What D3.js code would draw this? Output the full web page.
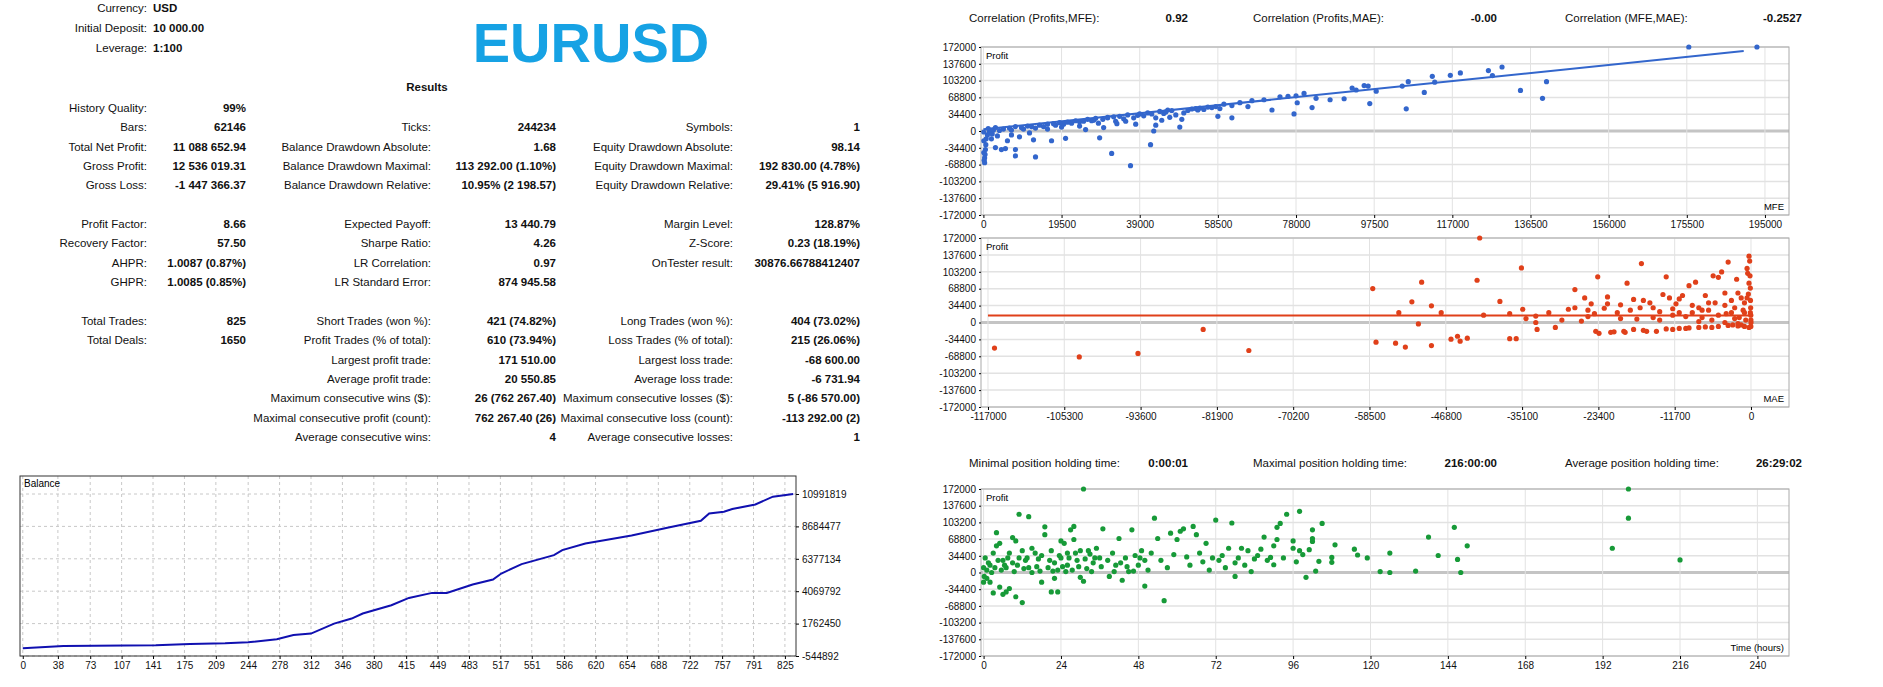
<!DOCTYPE html>
<html><head><meta charset="utf-8">
<script src="https://cdn.jsdelivr.net/npm/d3@7"></script>
<style>
body{margin:0;background:#fff;}
svg text{font-family:"Liberation Sans",Arial,sans-serif;}
.lbl{font-size:11.5px;fill:#111;}
.val{font-size:11.5px;font-weight:bold;fill:#111;}
.tick text{font-size:10px;fill:#111;}
</style></head>
<body><svg id="c" width="1883" height="687"></svg>
<script>
// ---- stats table rows: [label, value] per column
var headRows = [["Currency:", "USD"], ["Initial Deposit:", "10 000.00"], ["Leverage:", "1:100"]];
var col1 = [["History Quality:", "99%"], ["Bars:", "62146"], ["Total Net Profit:", "11 088 652.94"], ["Gross Profit:", "12 536 019.31"], ["Gross Loss:", "-1 447 366.37"], null,
  ["Profit Factor:", "8.66"], ["Recovery Factor:", "57.50"], ["AHPR:", "1.0087 (0.87%)"], ["GHPR:", "1.0085 (0.85%)"], null,
  ["Total Trades:", "825"], ["Total Deals:", "1650"]];
var col2 = [null, ["Ticks:", "244234"], ["Balance Drawdown Absolute:", "1.68"], ["Balance Drawdown Maximal:", "113 292.00 (1.10%)"], ["Balance Drawdown Relative:", "10.95% (2 198.57)"], null,
  ["Expected Payoff:", "13 440.79"], ["Sharpe Ratio:", "4.26"], ["LR Correlation:", "0.97"], ["LR Standard Error:", "874 945.58"], null,
  ["Short Trades (won %):", "421 (74.82%)"], ["Profit Trades (% of total):", "610 (73.94%)"], ["Largest profit trade:", "171 510.00"], ["Average profit trade:", "20 550.85"],
  ["Maximum consecutive wins ($):", "26 (762 267.40)"], ["Maximal consecutive profit (count):", "762 267.40 (26)"], ["Average consecutive wins:", "4"]];
var col3 = [null, ["Symbols:", "1"], ["Equity Drawdown Absolute:", "98.14"], ["Equity Drawdown Maximal:", "192 830.00 (4.78%)"], ["Equity Drawdown Relative:", "29.41% (5 916.90)"], null,
  ["Margin Level:", "128.87%"], ["Z-Score:", "0.23 (18.19%)"], ["OnTester result:", "30876.66788412407"], null, null,
  ["Long Trades (won %):", "404 (73.02%)"], ["Loss Trades (% of total):", "215 (26.06%)"], ["Largest loss trade:", "-68 600.00"], ["Average loss trade:", "-6 731.94"],
  ["Maximum consecutive losses ($):", "5 (-86 570.00)"], ["Maximal consecutive loss (count):", "-113 292.00 (2)"], ["Average consecutive losses:", "1"]];
var corrRow = [["Correlation (Profits,MFE):", "0.92"], ["Correlation (Profits,MAE):", "-0.00"], ["Correlation (MFE,MAE):", "-0.2527"]];
var holdRow = [["Minimal position holding time:", "0:00:01"], ["Maximal position holding time:", "216:00:00"], ["Average position holding time:", "26:29:02"]];

// ---- balance curve
var balTrade = [0, 44, 144, 181, 219, 244, 275, 293, 312, 337, 356, 368, 399, 418, 443, 459, 487, 509, 518, 540, 575, 584, 609, 631, 659, 699, 734, 743, 759, 768, 793, 812, 834];
var balValue = [10000, 170000, 216000, 310000, 360000, 430000, 645000, 950000, 1050000, 1760000, 2120000, 2480000, 3070000, 3590000, 3950000, 3950000, 4550000, 4900000, 5330000, 6000000, 6640000, 7000000, 7470000, 7710000, 8040000, 8610000, 9090000, 9610000, 9730000, 9920000, 10250000, 10800000, 10991819];
var balTicksX = [0, 38, 73, 107, 141, 175, 209, 244, 278, 312, 346, 380, 415, 449, 483, 517, 551, 586, 620, 654, 688, 722, 757, 791, 825];
var balTicksY = [-544892, 1762450, 4069792, 6377134, 8684477, 10991819];

// ---- profit axis shared by scatter charts
var profitTicks = [-172000, -137600, -103200, -68800, -34400, 0, 34400, 68800, 103200, 137600, 172000];

// MFE vs profit
var mfePts = [[176000,172000],[193000,172000],[129400,131000],[126000,123800],[127000,113500],[119000,119000],[116500,114000],[112000,112000],[112600,100000],[106000,101000],[104500,92000],[110000,79000],[105500,45400],[134000,83000],[140500,101000],[139500,67000],[98000,81500],[96400,56100],[92000,88000],[95000,93000],[96000,92000],[93000,84000],[90000,66000],[86500,64000],[83000,67000],[82000,48000],[80000,77000],[78000,72000],[76000,71000],[78300,57800],[77500,35000],[74000,70000],[72000,43000],[70000,64000],[67000,62000],[66000,50000],[64000,58000],[62000,52000],[62000,27000],[60000,55000],[58500,30000],[58000,50000],[57000,48000],[55000,44000],[53000,46000],[51000,42000],[50000,37000],[49000,8000],[49500,24000],[48000,33000],[46000,43000],[45000,36000],[44500,22000],[43000,27000],[42000,35000],[43000,12000],[41700,-28000],[42500,0],[40000,31000],[38000,14000],[37500,27000],[35000,25000],[36700,-71000],[33000,20000],[31000,27000],[29800,24000],[33300,15000],[28700,16000],[30000,7000],[27000,21000],[25500,3000],[29000,-14000],[32000,-46000],[24000,19000],[22000,16000],[20000,14000],[19500,8000],[18000,12000],[20500,-15000],[17000,-20000],[15000,9000],[13000,6000],[12500,-18000],[11500,-4000],[10000,4000],[13000,-53000],[9000,-12000],[8000,-38000],[8000,-51000],[7000,2000],[6000,-20000],[5500,-36000],[4500,-38000],[3500,-10000],[3000,-34000],[2500,2000],[2000,-16000],[1500,-3000],[700,-16000],[500,-38000],[400,-48000],[300,-55000],[200,-60000],[300,-65000],[600,-28000],[1000,-8000],[1200,5000],[3000,7000],[5000,4000],[8000,9000],[11000,10000],[14000,12000],[16000,14000],[21000,18000],[23000,21000],[26000,24000],[28000,26000],[31000,28000],[34000,30000],[36000,33000],[39000,35000],[41000,37000],[44000,40000],[47000,42000],[52000,45000],[54000,47000],[56000,49000],[4000,1000],[6500,6000],[9500,7000],[12000,9000],[17500,15000],[19000,17000],[25000,20000],[27500,22000],[32500,29000],[38500,32000],[45500,39000],[53500,43000],[59000,46000],[2000,0],[100,-2000],[100,-20000],[100,-44000],[2200,-6000],[7000,-8000],[16000,4000],[24000,10000],[35500,20000],[46500,28000]];
var mfeTicks = [0, 19500, 39000, 58500, 78000, 97500, 117000, 136500, 156000, 175500, 195000];
var mfeFit = [[0, 3400], [189700, 163700]];

// MAE vs profit
var maePts = [[-116000,-52000],[-103000,-70000],[-94000,-63000],[-84000,-14000],[-77000,-57000],[-58000,69000],[-57500,-40000],[-54500,-42000],[-54000,20000],[-53000,-50000],[-52000,42000],[-51000,-3000],[-50500,82000],[-49000,34000],[-49000,-47000],[-47500,20000],[-46000,-34000],[-45000,-28000],[-44600,-38000],[-43500,-32000],[-42000,86000],[-41600,172000],[-41000,15000],[-38500,43000],[-37000,-33000],[-36000,-33000],[-37000,18000],[-35200,111000],[-35000,27000],[-34500,8000],[-33000,13000],[-32800,-14000],[-33000,0],[-31000,20000],[-30000,-10000],[-29000,5000],[-28000,27000],[-27000,67000],[-26000,3000],[-25500,50000],[-25000,25000],[-24500,38000],[-23800,-18000],[-23500,93000],[-23300,-22000],[-22500,29000],[-22000,52000],[-21500,-20000],[-20500,20000],[-20000,36000],[-19300,-20000],[-19000,80000],[-18000,47000],[-17500,7000],[-16800,120000],[-16500,45000],[-16000,-18000],[-15000,30000],[-14500,-18000],[-14000,22000],[-13500,57000],[-13000,93000],[-12500,50000],[-12000,-14000],[-11500,38000],[-11000,20000],[-10500,55000],[-10000,-12000],[-9500,75000],[-9000,35000],[-8500,82000],[-8000,-10000],[-8000,30000],[-7500,10000],[-7000,55000],[-6500,25000],[-6000,-10000],[-5800,95000],[-5500,40000],[-5000,92000],[-4500,103000],[-4000,60000],[-3800,18000],[-3500,123000],[-3000,45000],[-2800,-5000],[-2500,30000],[-2200,88000],[-2000,60000],[-1800,10000],[-1500,50000],[-1200,25000],[-1000,40000],[-800,5000],[-600,110000],[-500,100000],[-400,58000],[-300,135000],[-200,125000],[-150,95000],[-100,70000],[-80,45000],[-50,30000],[-30,15000],[0,0],[-20,-8000],[-10,5000],[-300,-10000],[-1000,-8000],[-2000,-7000],[-4000,0],[-6000,5000],[-10000,12000],[-12000,15000],[-15000,10000],[-20000,8000],[-25000,12000],[-17000,30000],[-9000,20000],[-3000,20000],[-22000,38000],[-18000,-14000],[-11000,-12000],[-21000,-19000],[-19500,-18000],[-16500,-16000],[-13000,-13000],[-9500,-11000],[-7000,-9000],[-5000,-8000],[-3500,-6000],[-1500,-5000],[-14000,5000],[-8000,2000],[-5000,15000],[-2500,8000],[-1000,20000],[-6500,40000],[-11000,48000],[-15500,40000],[-18500,25000],[-24000,18000],[-27000,30000],[-4000,35000],[-7500,25000],[-12000,28000],[-600,50000],[-300,80000],[-100,20000],[-2000,-2000]];
var maeTicks = [-117000, -105300, -93600, -81900, -70200, -58500, -46800, -35100, -23400, -11700, 0];
var maeFit = [[-117000, 14300], [0, 14300]];

// holding time vs profit
var timePts = [[31,172000],[200,172000],[200,112000],[195,50000],[216,26000],[150,55000],[147,27000],[148,0],[146,93000],[141,35000],[138,73000],[134,3000],[126,40000],[126,0],[123,2000],[119,30000],[115,48000],[116,36000],[109,57000],[108,21000],[108,31000],[105,101000],[104,23000],[102,70000],[102,64000],[102,88000],[103,3000],[101,47000],[100,-10000],[99,37000],[98,126000],[98,45000],[97,22000],[96,65000],[96,50000],[94,120000],[93,30000],[92,101000],[91,68000],[91,93000],[90,16000],[90,55000],[89,31000],[88,25000],[87,73000],[86,48000],[85,35000],[84,28000],[83,2000],[82,45000],[81,15000],[80,50000],[79,30000],[78,-8000],[78,20000],[77,102000],[76,50000],[75,10000],[74,35000],[73,25000],[72,108000],[71,30000],[70,5000],[69,60000],[68,22000],[67,40000],[66,78000],[65,95000],[64,15000],[63,32000],[62,90000],[61,85000],[60,68000],[59,37000],[58,81000],[57,10000],[56,-58000],[55,25000],[54,70000],[53,112000],[52,40000],[51,5000],[50,-28000],[50,25000],[49,45000],[48,15000],[47,35000],[46,88000],[45,2000],[44,30000],[43,-16000],[42,70000],[41,15000],[40,40000],[39,-8000],[37,90000],[36,30000],[35,50000],[34,20000],[33,38000],[32,8000],[31,-18000],[30,-10000],[30,45000],[29,25000],[28,68000],[28,95000],[27,88000],[26,40000],[26,15000],[25,60000],[24,30000],[24,65000],[23,-40000],[23,5000],[22,20000],[22,-12000],[21,45000],[21,-40000],[20,10000],[19,78000],[19,94000],[18,35000],[18,-20000],[17,28000],[16,40000],[15,50000],[15,0],[14,115000],[14,10000],[13,25000],[12,45000],[12,-62000],[11,120000],[11,30000],[10,-50000],[10,65000],[9,72000],[9,20000],[8,-33000],[8,40000],[7,-40000],[7,10000],[6,-45000],[6,25000],[5,60000],[5,-30000],[4,82000],[4,55000],[3,-42000],[3,40000],[2,-20000],[2,15000],[1,5000],[1,-12000],[0.5,30000],[0.2,-8000],[0,10000],[0,-20000],[1.5,20000],[2.5,0],[3.5,10000],[4.5,25000],[5.5,5000],[6.5,15000],[7.5,30000],[9.5,2000],[10.5,15000],[12.5,8000],[13.5,30000],[16.5,12000],[17.5,3000],[20.5,25000],[21.5,3000],[23.5,35000],[24.5,12000],[25.5,2000],[26.5,30000],[27.5,5000],[28.5,40000],[29.5,12000],[31.5,28000],[32.5,45000],[33.5,2000],[34.5,30000],[36.5,12000],[38.5,25000],[40.5,2000],[42.5,20000],[44.5,12000],[46.5,3000],[48.5,30000]];
var timeTicks = [0, 24, 48, 72, 96, 120, 144, 168, 192, 216, 240];

var svg = d3.select("#c");
var plain = d => String(d);

// ---------- header / stats ----------
headRows.forEach(function(r, i) {
  var y = 12 + i * 20;
  svg.append("text").attr("class", "lbl").attr("x", 147).attr("y", y).attr("text-anchor", "end").text(r[0]);
  svg.append("text").attr("class", "val").attr("x", 153).attr("y", y).text(r[1]);
});
svg.append("text").attr("x", 591).attr("y", 62).attr("text-anchor", "middle")
  .attr("font-size", "56px").attr("font-weight", "bold").attr("fill", "#16a2e4").text("EURUSD");
svg.append("text").attr("class", "val").attr("x", 427).attr("y", 91).attr("text-anchor", "middle")
  .attr("font-size", "13px").text("Results");

function statCol(rows, lx, vx) {
  rows.forEach(function(r, i) {
    if (!r) return;
    var y = 112 + i * 19.35;
    svg.append("text").attr("class", "lbl").attr("x", lx).attr("y", y).attr("text-anchor", "end").text(r[0]);
    svg.append("text").attr("class", "val").attr("x", vx).attr("y", y).attr("text-anchor", "end").text(r[1]);
  });
}
statCol(col1, 147, 246);
statCol(col2, 431, 556);
statCol(col3, 733, 860);

function infoRow(rows, y) {
  var lx = [969, 1253, 1565], vx = [1188, 1497, 1802];
  rows.forEach(function(r, i) {
    svg.append("text").attr("class", "lbl").attr("x", lx[i]).attr("y", y).text(r[0]);
    svg.append("text").attr("class", "val").attr("x", vx[i]).attr("y", y).attr("text-anchor", "end").text(r[1]);
  });
}
infoRow(corrRow, 22);
infoRow(holdRow, 467);

// ---------- balance chart ----------
var bx = d3.scaleLinear().domain([-3, 837]).range([20, 796]);
var by = d3.scaleLinear().domain([-544892, 10991819]).range([656, 494]);
var bg = svg.append("g");
bg.selectAll(".vg").data(balTicksX).enter().append("line")
  .attr("x1", d => bx(d)).attr("x2", d => bx(d)).attr("y1", 476).attr("y2", 656)
  .attr("stroke", "#c8c8c8").attr("stroke-dasharray", "3,3");
bg.selectAll(".hg").data(balTicksY).enter().append("line")
  .attr("x1", 20).attr("x2", 796).attr("y1", d => by(d)).attr("y2", d => by(d))
  .attr("stroke", "#c8c8c8").attr("stroke-dasharray", "3,3");
bg.append("rect").attr("x", 20).attr("y", 476).attr("width", 776).attr("height", 180)
  .attr("fill", "none").attr("stroke", "#333");
bg.append("g").attr("transform", "translate(0,656)")
  .call(d3.axisBottom(bx).tickValues(balTicksX).tickSize(3).tickFormat(plain))
  .call(g => g.select(".domain").remove());
bg.append("g").attr("transform", "translate(796,0)")
  .call(d3.axisRight(by).tickValues(balTicksY).tickSize(3).tickFormat(plain))
  .call(g => g.select(".domain").remove());
bg.append("path").datum(d3.range(balTrade.length))
  .attr("d", d3.line().x(i => bx(balTrade[i])).y(i => by(balValue[i])))
  .attr("fill", "none").attr("stroke", "#1010b0").attr("stroke-width", 2);
bg.append("text").attr("x", 24).attr("y", 487).attr("font-size", "10px").text("Balance");

// ---------- scatter charts ----------
function scatter(opt) {
  var x = d3.scaleLinear().domain(opt.dom).range([981, 1789]);
  var y = d3.scaleLinear().domain([-172000, 172000]).range([opt.bottom, opt.top]);
  var g = svg.append("g");
  g.selectAll(".hg").data(profitTicks).enter().append("line")
    .attr("x1", 981).attr("x2", 1789).attr("y1", d => y(d)).attr("y2", d => y(d))
    .attr("stroke", d => d === 0 ? "#c4c4c4" : "#e2e2e2").attr("stroke-width", d => d === 0 ? 3 : 1.5);
  g.selectAll(".vg").data(opt.ticks).enter().append("line")
    .attr("x1", d => x(d)).attr("x2", d => x(d)).attr("y1", opt.top).attr("y2", opt.bottom)
    .attr("stroke", "#e2e2e2");
  g.append("rect").attr("x", 981).attr("y", opt.top).attr("width", 808).attr("height", opt.bottom - opt.top)
    .attr("fill", "none").attr("stroke", "#aaa");
  g.append("g").attr("transform", "translate(0," + opt.bottom + ")")
    .call(d3.axisBottom(x).tickValues(opt.ticks).tickSize(3).tickFormat(plain))
    .call(s => s.select(".domain").remove());
  g.append("g").attr("transform", "translate(981,0)")
    .call(d3.axisLeft(y).tickValues(profitTicks).tickSize(2).tickFormat(plain))
    .call(s => s.select(".domain").remove());
  if (opt.fit) {
    g.append("line").attr("x1", x(opt.fit[0][0])).attr("y1", y(opt.fit[0][1]))
      .attr("x2", x(opt.fit[1][0])).attr("y2", y(opt.fit[1][1]))
      .attr("stroke", opt.color).attr("stroke-width", 2);
  }
  g.selectAll("circle").data(opt.pts).enter().append("circle")
    .attr("cx", d => x(d[0])).attr("cy", d => y(d[1])).attr("r", 2.6).attr("fill", opt.color);
  g.append("text").attr("x", 986).attr("y", opt.top + 12).attr("font-size", "9.5px").text("Profit");
  g.append("text").attr("x", 1784).attr("y", opt.bottom - 5).attr("text-anchor", "end")
    .attr("font-size", "9.5px").text(opt.name);
}
scatter({dom: [-600, 201000], top: 47, bottom: 215, ticks: mfeTicks, pts: mfePts, fit: mfeFit, color: "#3366cc", name: "MFE"});
scatter({dom: [-118070, 5830], top: 238, bottom: 407, ticks: maeTicks, pts: maePts, fit: maeFit, color: "#e0401a", name: "MAE"});
scatter({dom: [-0.8, 249.8], top: 489, bottom: 656, ticks: timeTicks, pts: timePts, fit: null, color: "#179a38", name: "Time (hours)"});
</script></body></html>
